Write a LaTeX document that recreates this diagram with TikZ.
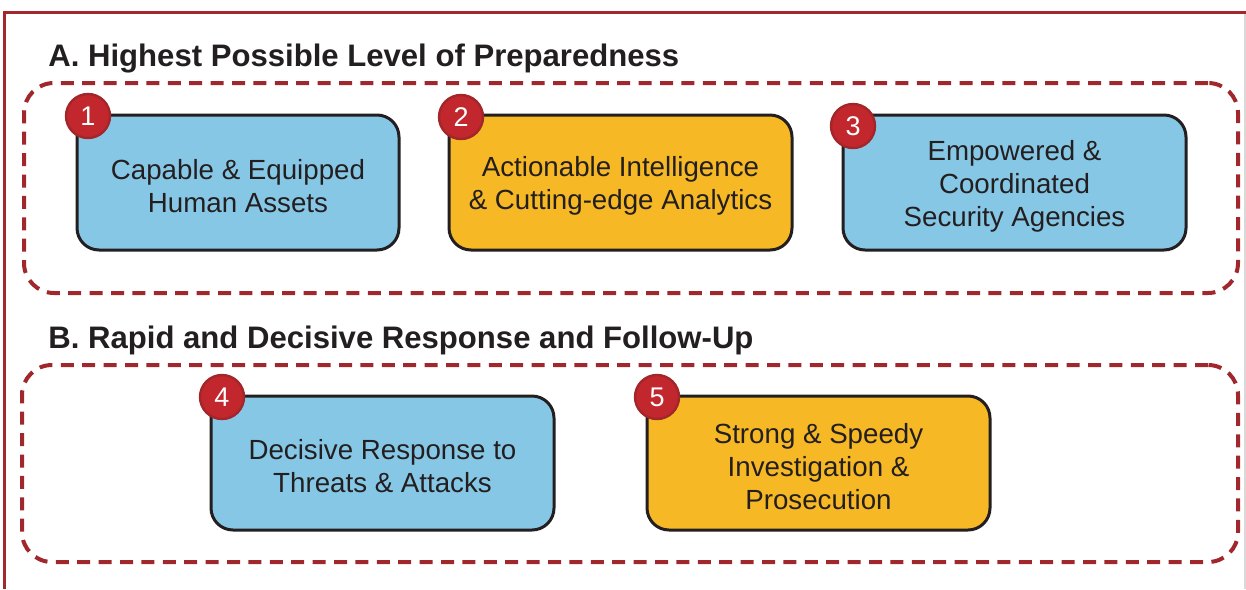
\documentclass[tikz,border=0pt]{standalone}
\usepackage{fontspec}
\setmainfont{Liberation Sans}
\definecolor{frame}{HTML}{A4282B}
\definecolor{dashc}{HTML}{A0282C}
\definecolor{boxblue}{HTML}{87C7E6}
\definecolor{boxorange}{HTML}{F6B824}
\definecolor{badgered}{HTML}{C1272D}
\definecolor{badgering}{HTML}{A3262A}
\definecolor{ink}{HTML}{231F20}
\definecolor{graybar}{HTML}{D9D9D9}
\tikzset{
  x=0.5pt, y=-0.5pt,
  groupframe/.style={draw=dashc, line width=2pt, dash pattern=on 6.5pt off 4.2pt,
    rounded corners=15pt, rectangle, inner sep=0pt},
  itembox/.style={draw=ink, line width=1.5pt, rounded corners=11pt, rectangle,
    minimum height=67.5pt, inner sep=0pt, align=center, text=ink,
    font=\fontsize{13.85pt}{16.5pt}\selectfont},
  bluebox/.style={itembox, fill=boxblue},
  orangebox/.style={itembox, fill=boxorange},
  badge/.style={circle, fill=badgered, draw=badgering, line width=1.2pt,
    minimum size=22pt, inner sep=0pt, text=white,
    font=\fontsize{13.5pt}{14pt}\selectfont},
  heading/.style={anchor=west, inner sep=0pt, text=ink,
    font=\fontsize{15.55pt}{18pt}\selectfont\bfseries}
}
\newcommand{\itemtext}[1]{\raisebox{-1.7pt}{\begin{tabular}{@{}c@{}}#1\end{tabular}}}
\begin{document}
\begin{tikzpicture}
\useasboundingbox (0,0) rectangle (1246,589);
% outer frame
\coordinate (fbl) at (4,589);
\coordinate (ftl) at (4,12);
\coordinate (ftr) at (1246,12);
\coordinate (gtop) at (1245,13);
\coordinate (gbot) at (1245,589);
\draw[graybar, line width=0.6pt] (gtop) -- (gbot);
\draw[frame, line width=1.5pt] (fbl) -- (ftl) -- (ftr);

% headings
\node[heading] (hA) at (48,59) {A. Highest Possible Level of Preparedness};
\node[heading] (hB) at (48,340) {B. Rapid and Decisive Response and Follow-Up};

% group frames
\node[groupframe, minimum width=607pt, minimum height=105pt] (gA) at (631,188) {};
\node[groupframe, minimum width=608pt, minimum height=98.5pt] (gB) at (630,463.5) {};

% items
\node[bluebox, minimum width=161pt] (b1) at (238,182.5) {};
\node[orangebox, minimum width=171.5pt] (b2) at (620.5,182.5) {};
\node[bluebox, minimum width=171.5pt] (b3) at (1014.5,182.5) {};
\node[bluebox, minimum width=171.5pt, minimum height=67pt] (b4) at (382.5,463) {};
\node[orangebox, minimum width=171.5pt, minimum height=67pt] (b5) at (818.5,463) {};
\begin{scope}[every node/.style={align=center, text=ink, inner sep=0pt,
    font=\fontsize{13.85pt}{16.5pt}\selectfont, yshift=-1.7pt}]
\node (t1) at (b1.center) {Capable \& Equipped\\Human Assets};
\node (t2) at (b2.center) {Actionable Intelligence\\\& Cutting-edge Analytics};
\node (t3) at (b3.center) {Empowered \&\\Coordinated\\Security Agencies};
\node (t4) at (b4.center) {Decisive Response to\\Threats \& Attacks};
\node (t5) at (b5.center) {Strong \& Speedy\\Investigation \&\\Prosecution};
\end{scope}

% badges
\node[badge] (n1) at (88,116) {1};
\node[badge] (n2) at (461,117) {2};
\node[badge] (n3) at (853,126) {3};
\node[badge] (n4) at (222,397) {4};
\node[badge] (n5) at (657,397) {5};
\end{tikzpicture}
\end{document}
